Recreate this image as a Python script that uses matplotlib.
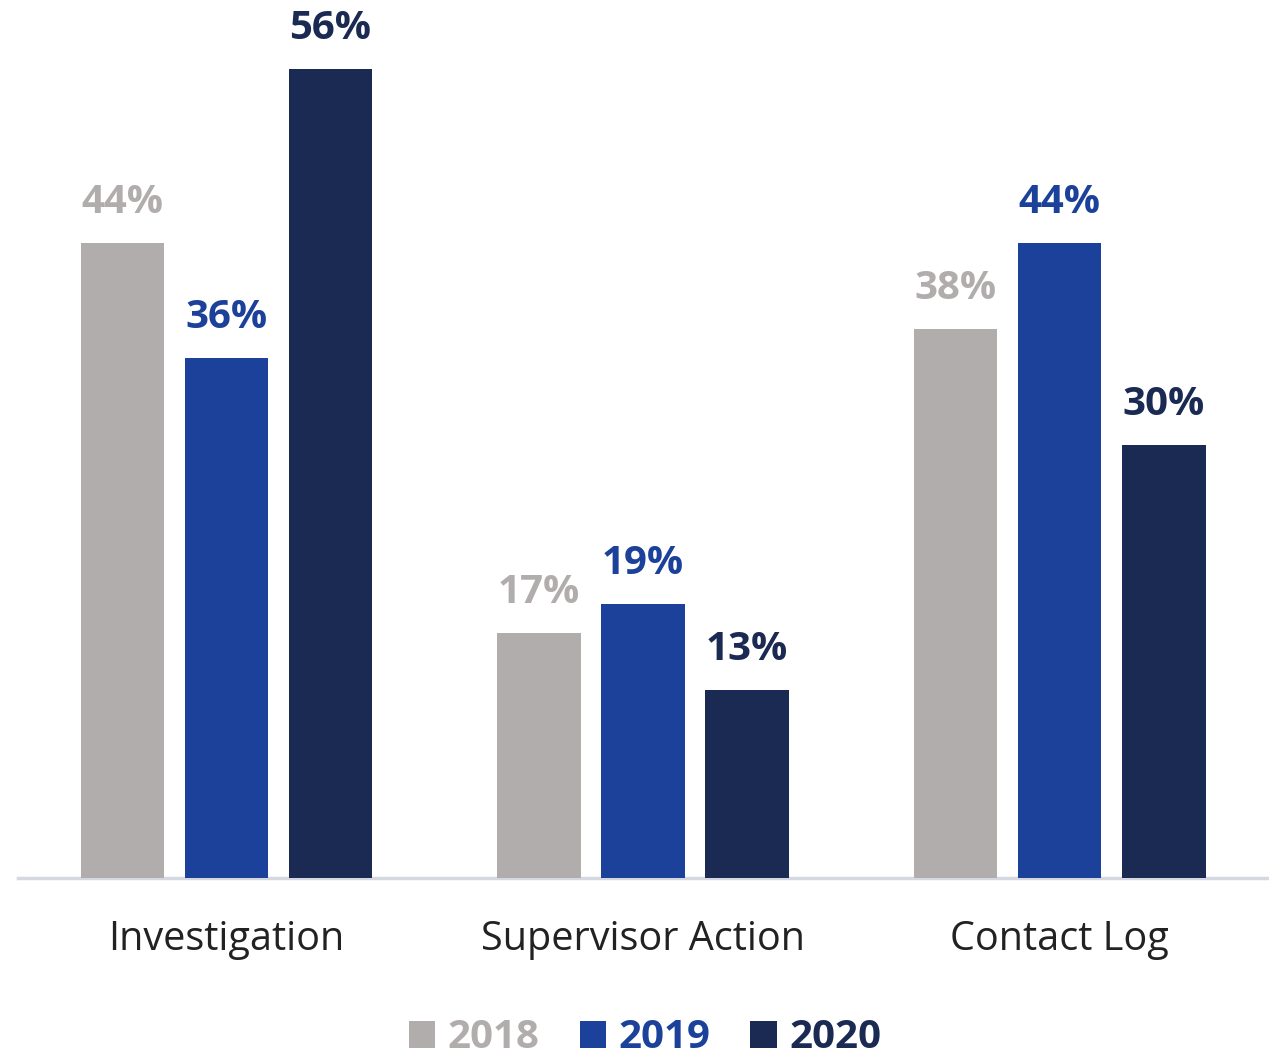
import matplotlib
matplotlib.use("Agg")
import matplotlib.pyplot as plt
from matplotlib.patches import Patch
import numpy as np

plt.rcParams['font.family'] = ['Open Sans', 'DejaVu Sans']

categories = ["Investigation", "Supervisor Action", "Contact Log"]
years = ["2018", "2019", "2020"]
values_2018 = [44, 17, 38]
values_2019 = [36, 19, 44]
values_2020 = [56, 13, 30]
series = [values_2018, values_2019, values_2020]
colors = ["#B1ADAC", "#1C419A", "#1A2A52"]

fig = plt.figure(figsize=(12.69, 10.56), dpi=100)
ax = fig.add_axes([18/1269, 178/1056, 1250/1269, 878/1056])

x = np.arange(len(categories))
offsets = [-0.25, 0, 0.25]
width = 0.2
for vals, off, c in zip(series, offsets, colors):
    bars = ax.bar(x + off, vals, width=width, color=c, zorder=3)
    for b, v in zip(bars, vals):
        ax.annotate(f"{v}%", (b.get_x() + b.get_width()/2, v), xytext=(0, 15),
                    textcoords="offset points", ha="center", va="bottom",
                    fontsize=29, fontweight="bold", color=c)

ax.set_xlim(-0.5, 2.5)
ax.set_ylim(0, 60.8)
for s in ["top", "right", "left"]:
    ax.spines[s].set_visible(False)
ax.spines["bottom"].set_color("#D5D8E0")
ax.spines["bottom"].set_linewidth(2.5)
ax.set_yticks([])
ax.set_xticks(x)
ax.set_xticklabels(categories, fontsize=28.5, color="#222222")
ax.tick_params(axis="x", length=0, pad=30)

handles = [Patch(facecolor=c, label=y) for c, y in zip(colors, years)]
leg = fig.legend(handles=handles, loc="center", bbox_to_anchor=(645/1269, 18/1056),
                 ncol=3, frameon=False, fontsize=29, handlelength=0.66,
                 handleheight=0.66, handletextpad=0.3, columnspacing=1.0)
for t, c in zip(leg.get_texts(), colors):
    t.set_color(c)
    t.set_fontweight("bold")

fig.savefig("out.png", dpi=100)
